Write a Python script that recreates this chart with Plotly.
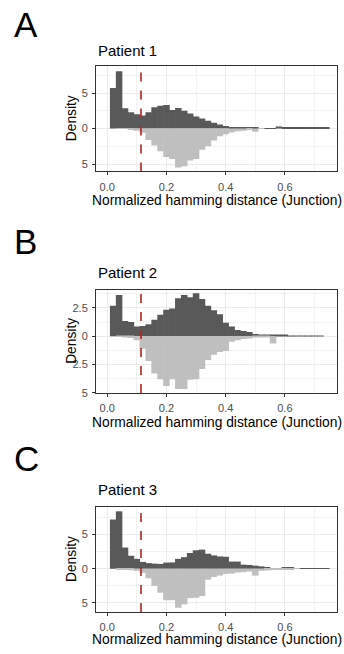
import plotly.graph_objects as go

# ---- data ----
bin_centers = [round(0.02 * (i + 1), 2) for i in range(37)]  # 0.02 .. 0.74, width 0.02
bin_width = 0.02
cutoff = 0.114

p1_upper = [5.7, 8.05, 2.84, 2.3, 2.0, 1.85, 2.3, 3.0, 3.2, 3.3, 2.6, 2.9, 2.5, 2.1, 1.7,
            1.4, 1.1, 0.8, 0.55, 0.35, 0.2, 0.12, 0.1, 0.08, 0.08, 0.06, 0.06, 0.06, 0.3,
            0.08, 0.08, 0.08, 0.08, 0.08, 0.08, 0.08, 0.08]
p1_lower = [0.0, 0.02, 0.05, 0.15, 0.3, 0.6, 1.6, 2.4, 3.2, 4.0, 4.3, 5.5, 5.3, 4.5, 4.3,
            3.0, 2.5, 1.7, 1.1, 0.8, 0.55, 0.4, 0.3, 0.2, 0.45, 0.05, 0.0, 0.0, 0.0,
            0.0, 0.0, 0.0, 0.0, 0.0, 0.0, 0.0, 0.0]

p2_upper = [2.7, 3.65, 1.35, 1.25, 0.85, 0.9, 1.05, 1.45, 1.9, 2.35, 2.45, 3.35, 3.65, 3.45,
            3.8, 3.3, 2.7, 2.3, 1.95, 1.2, 0.85, 0.55, 0.45, 0.38, 0.2, 0.15, 0.12, 0.1,
            0.08, 0.08, 0.05, 0.05, 0.05, 0.05, 0.05, 0.05, 0.0]
p2_lower = [0.0, 0.02, 0.05, 0.15, 0.35, 1.1, 2.2, 3.3, 3.8, 4.4, 3.8, 4.68, 4.68, 3.85,
            3.8, 2.9, 2.1, 1.65, 1.4, 1.3, 0.5, 0.35, 0.25, 0.2, 0.12, 0.06, 0.04, 0.65,
            0.0, 0.0, 0.0, 0.0, 0.0, 0.0, 0.0, 0.0, 0.0]

p3_upper = [7.2, 8.4, 3.1, 1.9, 1.45, 1.0, 0.82, 0.75, 0.7, 0.9, 0.92, 1.45, 1.7, 2.3, 2.7,
            2.8, 2.2, 1.95, 1.8, 1.75, 1.05, 1.05, 0.6, 0.55, 0.45, 0.35, 0.25, 0.1, 0.05,
            0.12, 0.12, 0.06, 0.06, 0.06, 0.06, 0.06, 0.06]
p3_lower = [0.0, 0.05, 0.1, 0.2, 0.3, 0.6, 1.4, 2.5, 3.5, 4.6, 4.6, 5.7, 5.2, 4.3, 4.25,
            4.0, 1.6, 1.2, 1.0, 0.75, 0.7, 0.55, 0.5, 0.4, 1.0, 0.3, 0.25, 0.2, 0.15,
            0.1, 0.05, 0.02, 0.0, 0.0, 0.0, 0.0, 0.0]

patients = ["Patient 1", "Patient 2", "Patient 3"]
letters = ["A", "B", "C"]
y_ranges = [[-6.04, 8.79], [-5.03, 4.12], [-6.33, 9.03]]
y_tickvals = [[-5, 0, 5], [-5, -2.5, 0, 2.5], [-5, 0, 5]]
y_ticktext = [["5", "0", "5"], ["5", "2.5", "0", "2.5"], ["5", "0", "5"]]
y_minor = [[-2.5, 2.5, 7.5], [-3.75, -1.25, 1.25, 3.75], [-2.5, 2.5, 7.5]]
x_tickvals = [0.0, 0.2, 0.4, 0.6]
x_ticktext = ["0.0", "0.2", "0.4", "0.6"]
x_minor = [0.1, 0.3, 0.5, 0.7]
x_range = [-0.038, 0.776]

uppers = [p1_upper, p2_upper, p3_upper]
lowers = [p1_lower, p2_lower, p3_lower]

# ---- layout geometry (pixels) ----
W, H = 344, 654
plot_left, plot_right = 96, 337
panel_px = [(66.7, 173.0), (292.3, 396.7), (511.7, 617.7)]
title_y = [50.7, 275.0, 494.0]
xtitle_y = [202.7, 426.0, 645.0]
letter_y = [24.5, 244.0, 463.0]

DARK = "#595959"
LIGHT = "#bfbfbf"
FONT = "Liberation Sans, Arial, Helvetica, sans-serif"


def px_x(x):
    return x / W


def px_y(y):
    return 1 - y / H


fig = go.Figure()
annotations = []
shapes = []

for i in range(3):
    sfx = "" if i == 0 else str(i + 1)
    xa = "x" + sfx
    ya = "y" + sfx
    # bars drawn slightly wider than the bin so neighbouring bins touch without hairline gaps
    fig.add_trace(go.Bar(x=bin_centers, y=uppers[i], width=bin_width * 1.1,
                         marker=dict(color=DARK, line=dict(width=0)),
                         xaxis=xa, yaxis=ya, showlegend=False))
    fig.add_trace(go.Bar(x=bin_centers, y=[-v for v in lowers[i]], width=bin_width * 1.1,
                         marker=dict(color=LIGHT, line=dict(width=0)),
                         xaxis=xa, yaxis=ya, showlegend=False))
    top, bot = panel_px[i]
    axis_common = dict(
        showline=True, mirror=True, linecolor="#333333", linewidth=1,
        ticks="outside", ticklen=3, tickcolor="#333333", tickwidth=1,
        showgrid=True, gridcolor="#ebebeb", gridwidth=1, zeroline=False,
        tickfont=dict(family=FONT, size=11, color="#4d4d4d"),
    )
    fig.update_layout(**{
        "xaxis" + sfx: dict(
            domain=[px_x(plot_left), px_x(plot_right)], anchor=ya,
            range=x_range, tickmode="array", tickvals=x_tickvals, ticktext=x_ticktext,
            minor=dict(tickvals=x_minor, showgrid=True, gridcolor="#f2f2f2", gridwidth=1, ticks=""),
            ticklabelstandoff=2, **axis_common),
        "yaxis" + sfx: dict(
            domain=[px_y(bot), px_y(top)], anchor=xa,
            range=y_ranges[i], tickmode="array", tickvals=y_tickvals[i], ticktext=y_ticktext[i],
            minor=dict(tickvals=y_minor[i], showgrid=True, gridcolor="#f2f2f2", gridwidth=1, ticks=""),
            ticklabelstandoff=2, **axis_common),
    })
    shapes.append(dict(type="line", xref=xa, yref="y" + sfx + " domain" if sfx else "y domain",
                       x0=cutoff, x1=cutoff, y0=0, y1=1,
                       line=dict(color="#b22222", width=1.6, dash="dash")))
    annotations.append(dict(text=letters[i], x=px_x(12), y=px_y(letter_y[i]), xref="paper", yref="paper",
                            xanchor="left", yanchor="middle", showarrow=False,
                            font=dict(family=FONT, size=35, color="black")))
    annotations.append(dict(text=patients[i], x=px_x(96), y=px_y(title_y[i]), xref="paper", yref="paper",
                            xanchor="left", yanchor="middle", showarrow=False,
                            font=dict(family=FONT, size=15, color="black")))
    annotations.append(dict(text="Normalized hamming distance (Junction)", x=px_x(216.5), y=px_y(xtitle_y[i]),
                            xref="paper", yref="paper", xanchor="center", yanchor="middle", showarrow=False,
                            font=dict(family=FONT, size=13.8, color="black")))
    annotations.append(dict(text="Density", x=px_x(71.5), y=px_y((top + bot) / 2), xref="paper", yref="paper",
                            xanchor="center", yanchor="middle", showarrow=False, textangle=-90,
                            font=dict(family=FONT, size=13.8, color="black")))

fig.update_layout(
    width=W, height=H, margin=dict(l=0, r=0, t=0, b=0),
    paper_bgcolor="white", plot_bgcolor="white",
    barmode="overlay", showlegend=False,
    annotations=annotations, shapes=shapes,
)

fig.write_html("out.html")
